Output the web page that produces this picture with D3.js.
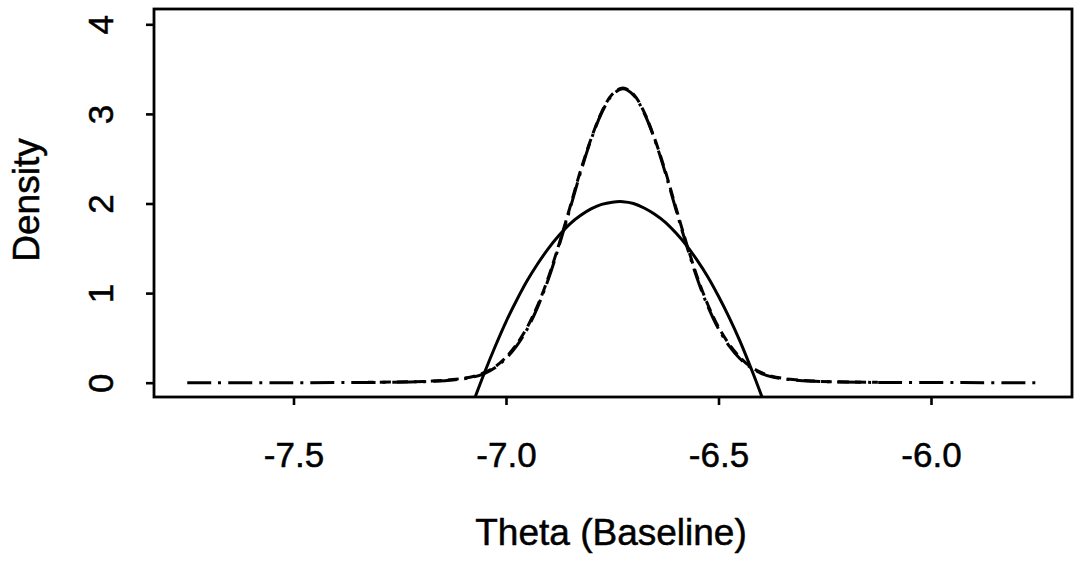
<!DOCTYPE html>
<html>
<head>
<meta charset="utf-8">
<script src="https://cdn.jsdelivr.net/npm/d3@7"></script>
<style>
  html, body { margin: 0; padding: 0; background: #fff; }
  svg { display: block; font-family: "Liberation Sans", Arial, Helvetica, sans-serif; }
  svg text { stroke: #000; stroke-width: 0.5px; }
</style>
</head>
<body>
<div id="chart"></div>
<script>
// posterior density curves
const thetaA = [-7.75, -7.5, -7.325, -7.225, -7.175, -7.125, -7.075, -7.05, -7.025, -7.0,
  -6.975, -6.95, -6.925, -6.9, -6.875, -6.85, -6.825, -6.8, -6.775, -6.75, -6.725,
  -6.7, -6.675, -6.65, -6.625, -6.6, -6.575, -6.55, -6.525, -6.5, -6.475, -6.45,
  -6.425, -6.4, -6.375, -6.325, -6.275, -6.225, -6.125, -5.925, -5.74];
const densityA = [0, 0.0005, 0.003, 0.008, 0.015, 0.03, 0.065, 0.105, 0.17, 0.27,
  0.41, 0.6, 0.85, 1.16, 1.53, 1.93, 2.34, 2.71, 3.01, 3.21, 3.28,
  3.21, 3.01, 2.71, 2.34, 1.93, 1.53, 1.16, 0.85, 0.6, 0.41, 0.27,
  0.17, 0.105, 0.065, 0.03, 0.015, 0.008, 0.003, 0.001, 0];

const thetaB = [-7.325, -7.225, -7.175, -7.125, -7.075, -7.05, -7.025, -7.0,
  -6.975, -6.95, -6.925, -6.9, -6.875, -6.85, -6.825, -6.8, -6.775, -6.75, -6.725,
  -6.7, -6.675, -6.65, -6.625, -6.6, -6.575, -6.55, -6.525, -6.5, -6.475, -6.45,
  -6.425, -6.4, -6.375, -6.325, -6.275, -6.225, -6.125];
const densityB = [0.004, 0.01, 0.018, 0.035, 0.072, 0.115, 0.18, 0.285,
  0.43, 0.62, 0.87, 1.18, 1.55, 1.95, 2.36, 2.72, 3.02, 3.22, 3.29,
  3.22, 3.02, 2.72, 2.36, 1.95, 1.55, 1.18, 0.87, 0.62, 0.43, 0.285,
  0.18, 0.115, 0.072, 0.035, 0.018, 0.01, 0.004];

const thetaC = [-7.075, -7.05, -7.025, -7.0, -6.975, -6.95, -6.925, -6.9, -6.875,
  -6.85, -6.825, -6.8, -6.775, -6.75, -6.725, -6.7, -6.675, -6.65, -6.625, -6.6,
  -6.575, -6.55, -6.525, -6.5, -6.475, -6.45, -6.425, -6.4, -6.375];
const densityC = [-0.19, 0.12, 0.41, 0.68, 0.92, 1.14, 1.33, 1.5, 1.645,
  1.77, 1.865, 1.94, 1.99, 2.015, 2.02, 2.0, 1.95, 1.88, 1.79, 1.67,
  1.53, 1.365, 1.18, 0.965, 0.73, 0.47, 0.18, -0.13, -0.46];

const xTicks = [-7.5, -7.0, -6.5, -6.0];
const yTicks = [0, 1, 2, 3, 4];
const xTitle = "Theta (Baseline)";
const yTitle = "Density";

const W = 1075, H = 565;
const plot = { left: 154, right: 1072, top: 9, bottom: 397 };

const x = d3.scaleLinear().domain([-7.5, -6.0]).range([293.5, 931]);
const y = d3.scaleLinear().domain([0, 4]).range([382.7, 24.3]);

const svg = d3.select("#chart").append("svg")
  .attr("width", W).attr("height", H)
  .attr("viewBox", `0 0 ${W} ${H}`);

svg.append("rect").attr("width", W).attr("height", H).attr("fill", "#fff");

svg.append("clipPath").attr("id", "plot-clip")
  .append("rect")
  .attr("x", plot.left).attr("y", plot.top)
  .attr("width", plot.right - plot.left).attr("height", plot.bottom - plot.top);

const line = d3.line().x((d) => x(d[0])).y((d) => y(d[1])).curve(d3.curveCatmullRom);
const curves = svg.append("g").attr("clip-path", "url(#plot-clip)")
  .attr("fill", "none").attr("stroke", "#000").attr("stroke-width", 3)
  .attr("stroke-linecap", "butt");

curves.append("path")
  .attr("d", line(d3.zip(thetaC, densityC)));
curves.append("path")
  .attr("stroke-dasharray", "24,7,3,7")
  .attr("d", line(d3.zip(thetaA, densityA)));
curves.append("path")
  .attr("stroke-dasharray", "11,6")
  .attr("stroke-dashoffset", 5)
  .attr("d", line(d3.zip(thetaB, densityB)));

// frame
svg.append("rect")
  .attr("x", plot.left).attr("y", plot.top)
  .attr("width", plot.right - plot.left).attr("height", plot.bottom - plot.top)
  .attr("fill", "none").attr("stroke", "#000").attr("stroke-width", 2.8);

// x axis
const xAxis = d3.axisBottom(x).tickValues(xTicks).tickSize(8).tickPadding(36)
  .tickFormat(d3.format(".1f"));
const gx = svg.append("g").attr("transform", `translate(0,${plot.bottom})`).call(xAxis);
gx.select(".domain").remove();
gx.selectAll(".tick line").attr("stroke", "#000").attr("stroke-width", 2.6);
gx.selectAll(".tick text")
  .attr("fill", "#000").attr("font-size", 35).attr("dy", 0)
  .attr("y", 70)
  .text((d) => d3.format(".1f")(d).replace("−", "-"));

// y axis
const yAxis = d3.axisLeft(y).tickValues(yTicks).tickSize(8).tickFormat(d3.format("d"));
const gy = svg.append("g").attr("transform", `translate(${plot.left},0)`).call(yAxis);
gy.select(".domain").remove();
gy.selectAll(".tick line").attr("stroke", "#000").attr("stroke-width", 2.6);
gy.selectAll(".tick text")
  .attr("fill", "#000").attr("font-size", 35)
  .attr("x", null).attr("dy", null)
  .attr("text-anchor", "middle")
  .attr("transform", "translate(-41,0) rotate(-90)");

svg.append("text")
  .attr("x", 611).attr("y", 545)
  .attr("text-anchor", "middle").attr("font-size", 37)
  .text(xTitle);

svg.append("text")
  .attr("transform", "translate(39,200) rotate(-90)")
  .attr("text-anchor", "middle").attr("font-size", 37)
  .text(yTitle);
</script>
</body>
</html>
